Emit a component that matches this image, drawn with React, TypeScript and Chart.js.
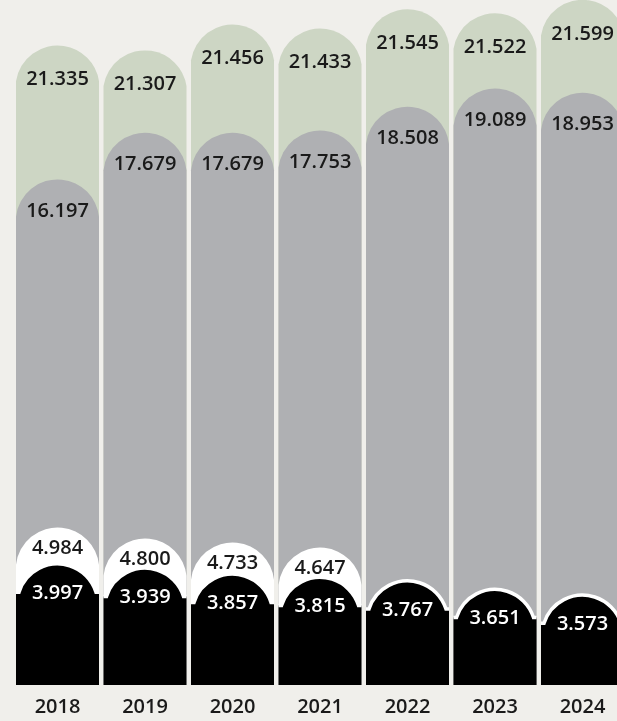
import React, { useEffect, useRef } from 'react';
import { Chart, registerables } from 'chart.js';

Chart.register(...registerables);

// ---- data ----
const years = ['2018', '2019', '2020', '2021', '2022', '2023', '2024'];
const greenValues = [21335, 21307, 21456, 21433, 21545, 21522, 21599];
const grayValues = [16197, 17679, 17679, 17753, 18508, 19089, 18953];
const whiteValues: (number | null)[] = [4984, 4800, 4733, 4647, null, null, null];
const blackValues = [3997, 3939, 3857, 3815, 3767, 3651, 3573];

// each series sits on its own (hidden) value scale
const greenRange = [17642, 21598];
const grayRange = [124, 21900];
const whiteRange = [2345, 13822];
const blackRange = [2350, 11669];

const BG = '#f0efeb';
const GREEN = '#cdd6c4';
const GRAY = '#afb0b3';
const WHITE = '#ffffff';
const BLACK = '#000000';
const TEXT = '#1a1a1a';
const FONT = '"Open Sans", "Noto Sans", sans-serif';

const fmt = (v: number) => String(v).replace(/\B(?=(\d{3})+(?!\d))/g, '.');

type CapStyle = {
  capRatio: number;
  inset: number;
  labelOffset: number;
  labelColor: string;
  stroke?: string;
  strokeWidth?: number;
};

const capStyles: Record<string, CapStyle> = {
  green: { capRatio: 0.43, inset: 0, labelOffset: 34, labelColor: TEXT },
  gray: { capRatio: 0.45, inset: 0, labelOffset: 32, labelColor: TEXT },
  white: { capRatio: 0.45, inset: 0, labelOffset: 21, labelColor: TEXT },
  black: { capRatio: 0.34, inset: 3, labelOffset: 29, labelColor: '#ffffff', stroke: '#ffffff', strokeWidth: 3.5 },
};

const capPlugin = {
  id: 'roundCaps',
  beforeDatasetDraw(chart: any, args: any) {
    const meta = args.meta;
    const ds = chart.data.datasets[args.index];
    const style: CapStyle = capStyles[ds.capKey];
    const ctx: CanvasRenderingContext2D = chart.ctx;
    const bottom = chart.chartArea.bottom;
    ctx.save();
    meta.data.forEach((el: any, i: number) => {
      const v = ds.data[i];
      if (v === null || v === undefined) return;
      const { x, y, width } = el.getProps(['x', 'y', 'width'], true);
      const half = width / 2;
      const ah = half - style.inset;
      const capH = width * style.capRatio;
      const R = (capH * capH + ah * ah) / (2 * capH);
      const ang = Math.asin(Math.min(1, ah / R));
      const shoulder = y + capH;
      ctx.beginPath();
      ctx.moveTo(x - half, bottom);
      ctx.lineTo(x - half, shoulder);
      ctx.lineTo(x - ah, shoulder);
      ctx.arc(x, y + R, R, -Math.PI / 2 - ang, -Math.PI / 2 + ang);
      ctx.lineTo(x + half, shoulder);
      ctx.lineTo(x + half, bottom);
      ctx.closePath();
      ctx.fillStyle = ds.backgroundColor;
      ctx.fill();
      if (style.stroke) {
        ctx.beginPath();
        ctx.moveTo(x - half, shoulder);
        ctx.lineTo(x - ah, shoulder);
        ctx.arc(x, y + R, R, -Math.PI / 2 - ang, -Math.PI / 2 + ang);
        ctx.lineTo(x + half, shoulder);
        ctx.strokeStyle = style.stroke;
        ctx.lineWidth = style.strokeWidth || 3;
        ctx.stroke();
      }
      ctx.fillStyle = style.labelColor;
      ctx.font = `600 20px ${FONT}`;
      ctx.textAlign = 'center';
      ctx.textBaseline = 'middle';
      ctx.fillText(fmt(v), x, y + style.labelOffset);
    });
    ctx.restore();
    return false;
  },
};

export default function App() {
  const ref = useRef<HTMLCanvasElement | null>(null);

  useEffect(() => {
    if (!ref.current) return;
    const common = { grouped: false, barPercentage: 1, categoryPercentage: 0.9486 };
    const chart = new Chart(ref.current, {
      type: 'bar',
      data: {
        labels: years,
        datasets: [
          { ...common, capKey: 'black', data: blackValues, backgroundColor: BLACK, yAxisID: 'yBlack' } as any,
          { ...common, capKey: 'white', data: whiteValues, backgroundColor: WHITE, yAxisID: 'yWhite' } as any,
          { ...common, capKey: 'gray', data: grayValues, backgroundColor: GRAY, yAxisID: 'yGray' } as any,
          { ...common, capKey: 'green', data: greenValues, backgroundColor: GREEN, yAxisID: 'yGreen' } as any,
        ],
      },
      options: {
        responsive: false,
        animation: false,
        devicePixelRatio: 1,
        layout: { padding: { left: 13.75, right: 13.75, top: 0, bottom: -8 } },
        plugins: { legend: { display: false }, tooltip: { enabled: false } },
        scales: {
          x: {
            grid: { display: false, drawTicks: false },
            border: { display: false },
            ticks: { color: TEXT, padding: 10, font: { family: FONT, size: 20, weight: '600' } },
          },
          yGreen: { type: 'linear', display: false, min: greenRange[0], max: greenRange[1] },
          yGray: { type: 'linear', display: false, min: grayRange[0], max: grayRange[1] },
          yWhite: { type: 'linear', display: false, min: whiteRange[0], max: whiteRange[1] },
          yBlack: { type: 'linear', display: false, min: blackRange[0], max: blackRange[1] },
        },
      } as any,
      plugins: [capPlugin as any],
    });
    return () => chart.destroy();
  }, []);

  return (
    <div
      style={{
        position: 'fixed',
        left: 0,
        top: 0,
        width: 617,
        height: 721,
        overflow: 'hidden',
        background: BG,
      }}
    >
      <canvas ref={ref} width={640} height={721} style={{ display: 'block' }} />
    </div>
  );
}
